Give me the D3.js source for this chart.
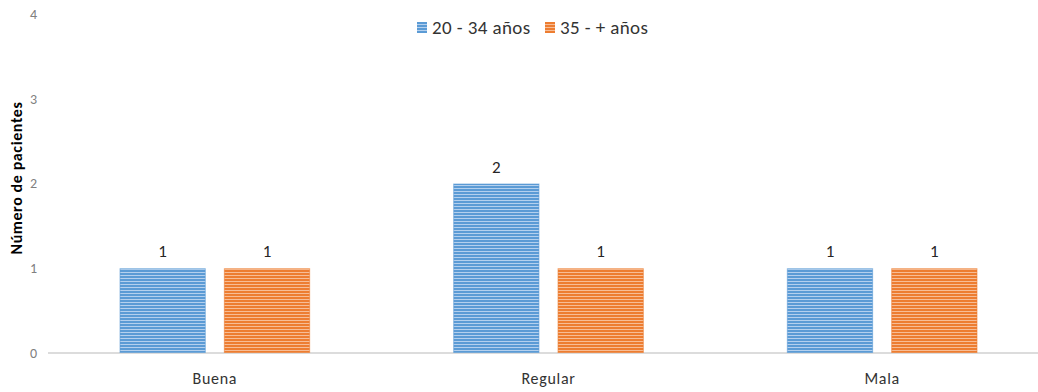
<!DOCTYPE html>
<html>
<head>
<meta charset="utf-8">
<script src="https://cdn.jsdelivr.net/npm/d3@7"></script>
<style>
  html, body { margin: 0; padding: 0; background: #fff; }
  svg { display: block; font-family: Carlito, Lato, "Open Sans", sans-serif; }
</style>
</head>
<body>
<svg id="chart" width="1038" height="392"></svg>
<script>
// Patient counts by rating, split by age group
const categories = ["Buena", "Regular", "Mala"];
const seriesNames = ["20 - 34 años", "35 - + años"];
const youngValues = [1, 2, 1];
const olderValues = [1, 1, 1];
const yTicks = [0, 1, 2, 3, 4];
const yTitle = "Número de pacientes";

const seriesValues = [youngValues, olderValues];
const colors = [
  { dark: "#5b9bd5", light: "#b4d0ee" },
  { dark: "#ed7d31", light: "#f7bd96" }
];

const svg = d3.select("#chart");
const W = 1038;

// Striped fills
const defs = svg.append("defs");
colors.forEach((c, i) => {
  const p = defs.append("pattern")
    .attr("id", "stripe" + i)
    .attr("patternUnits", "userSpaceOnUse")
    .attr("width", 6).attr("height", 3);
  p.append("rect").attr("width", 6).attr("height", 3).attr("fill", c.light);
  p.append("rect").attr("width", 6).attr("height", 2).attr("fill", c.dark);
});

const x0 = d3.scaleBand().domain(categories).range([48, 1049]).padding(0);
const x1 = d3.scaleBand().domain(seriesNames)
  .range([71.5, x0.bandwidth() - 71.5]).paddingInner(0.173).paddingOuter(0);
const y = d3.scaleLinear().domain([0, 4]).range([353, 14]);

// Y tick labels (no line)
const yAxis = svg.append("g")
  .attr("transform", "translate(48,0)")
  .call(d3.axisLeft(y).tickValues(yTicks).tickSize(0).tickPadding(11).tickFormat(d3.format("d")));
yAxis.select(".domain").remove();
yAxis.selectAll("text")
  .attr("fill", "#808080").style("font-size", "14px")
  .style("font-family", "Carlito, Lato, sans-serif");

// Baseline
svg.append("line")
  .attr("x1", 48).attr("x2", W)
  .attr("y1", y(0)).attr("y2", y(0))
  .attr("stroke", "#d0d0d0").attr("stroke-width", 1.5);

// Bars
const groups = svg.append("g").selectAll("g")
  .data(categories)
  .join("g")
  .attr("transform", d => `translate(${x0(d)},0)`);

groups.selectAll("rect")
  .data((d, ci) => seriesNames.map((s, si) => ({ s, si, v: seriesValues[si][ci] })))
  .join("rect")
  .attr("x", d => x1(d.s) + 0.5)
  .attr("y", d => y(d.v) + 0.5)
  .attr("width", x1.bandwidth() - 1)
  .attr("height", d => y(0) - y(d.v) - 1)
  .attr("fill", d => `url(#stripe${d.si})`)
  .attr("stroke", d => colors[d.si].dark)
  .attr("stroke-opacity", 0.6)
  .attr("stroke-width", 1);

// Value labels
groups.selectAll("text.val")
  .data((d, ci) => seriesNames.map((s, si) => ({ s, si, v: seriesValues[si][ci] })))
  .join("text")
  .attr("class", "val")
  .attr("x", d => x1(d.s) + x1.bandwidth() / 2)
  .attr("y", d => y(d.v) - 11)
  .attr("text-anchor", "middle")
  .attr("fill", "#262626")
  .style("font-size", "17px")
  .text(d => d.v);

// Category labels
svg.append("g").selectAll("text")
  .data(categories)
  .join("text")
  .attr("x", d => x0(d) + x0.bandwidth() / 2)
  .attr("y", 384)
  .attr("text-anchor", "middle")
  .attr("fill", "#333")
  .style("font-size", "16px")
  .style("letter-spacing", "0.7px")
  .text(d => d);

// Y axis title
svg.append("text")
  .attr("transform", "translate(22,178) rotate(-90)")
  .attr("text-anchor", "middle")
  .attr("fill", "#000")
  .style("font-size", "16px")
  .style("font-weight", "bold")
  .style("letter-spacing", "0.6px")
  .text(yTitle);

// Legend
const legend = svg.append("g").attr("transform", "translate(417,22)");
const legendX = [0, 128];
seriesNames.forEach((s, i) => {
  const g = legend.append("g").attr("transform", `translate(${legendX[i]},0)`);
  g.append("rect").attr("width", 10).attr("height", 11)
    .attr("fill", `url(#stripe${i})`);
  g.append("text").attr("x", 15).attr("y", 12)
    .attr("fill", "#333")
    .style("font-size", "19px")
    .style("letter-spacing", "0.4px")
    .text(s);
});
</script>
</body>
</html>
